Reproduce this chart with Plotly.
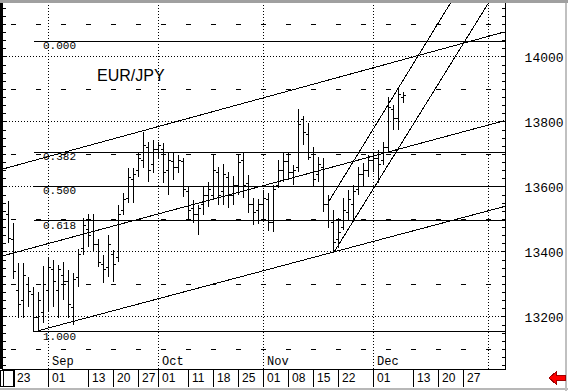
import pandas as pd
import plotly.graph_objects as go

# ---------------- data (EUR/JPY daily bars, price x100) ----------------
bar_dates = pd.bdate_range("2004-08-20", "2004-12-09")
opens = [13514, 13437, 13283, 13252, 13299, 13268, 13197, 13215, 13283, 13345,
         13283, 13329, 13308, 13228, 13320, 13412, 13468, 13462, 13422, 13360,
         13351, 13391, 13382, 13529, 13566, 13622, 13652, 13683, 13720, 13668,
         13714, 13714, 13652, 13677, 13659, 13677, 13585, 13535, 13514, 13545,
         13575, 13575, 13646, 13585, 13628, 13575, 13606, 13683, 13612, 13545,
         13529, 13545, 13560, 13492, 13606, 13652, 13677, 13646, 13659, 13809,
         13760, 13699, 13637, 13659, 13545, 13492, 13437, 13474, 13523, 13545,
         13591, 13637, 13652, 13683, 13689, 13683, 13720, 13837, 13812, 13874]
highs = [13557, 13489, 13366, 13366, 13323, 13292, 13277, 13357, 13382, 13375,
         13360, 13369, 13345, 13335, 13409, 13505, 13517, 13517, 13440, 13391,
         13452, 13406, 13545, 13582, 13659, 13659, 13708, 13769, 13739, 13745,
         13739, 13735, 13705, 13705, 13699, 13689, 13600, 13560, 13545, 13600,
         13615, 13699, 13662, 13671, 13646, 13634, 13699, 13705, 13637, 13566,
         13563, 13591, 13582, 13606, 13683, 13705, 13708, 13668, 13840, 13818,
         13797, 13723, 13692, 13689, 13575, 13529, 13505, 13566, 13591, 13606,
         13662, 13674, 13699, 13708, 13714, 13739, 13877, 13852, 13908, 13892]
lows = [13428, 13317, 13197, 13197, 13231, 13155, 13160, 13182, 13215, 13231,
        13197, 13252, 13197, 13175, 13292, 13391, 13415, 13400, 13354, 13305,
        13323, 13308, 13369, 13514, 13551, 13551, 13631, 13659, 13615, 13643,
        13689, 13612, 13575, 13622, 13643, 13569, 13498, 13489, 13452, 13514,
        13539, 13560, 13545, 13545, 13535, 13545, 13575, 13566, 13520, 13483,
        13486, 13492, 13465, 13462, 13597, 13615, 13622, 13606, 13646, 13729,
        13683, 13600, 13615, 13523, 13474, 13397, 13412, 13468, 13498, 13498,
        13575, 13600, 13631, 13646, 13612, 13668, 13705, 13775, 13775, 13858]
closes = [13443, 13339, 13237, 13329, 13277, 13197, 13252, 13299, 13351, 13308,
          13345, 13308, 13237, 13314, 13391, 13483, 13452, 13422, 13369, 13345,
          13422, 13360, 13514, 13560, 13628, 13637, 13689, 13729, 13652, 13714,
          13729, 13646, 13683, 13659, 13683, 13591, 13529, 13514, 13535, 13575,
          13591, 13652, 13575, 13637, 13575, 13606, 13674, 13606, 13545, 13523,
          13545, 13566, 13492, 13591, 13652, 13677, 13646, 13652, 13791, 13769,
          13692, 13622, 13668, 13545, 13498, 13428, 13459, 13529, 13560, 13585,
          13637, 13652, 13683, 13689, 13668, 13720, 13843, 13812, 13883, 13880]

# Fibonacci retracement (swing high / swing low)
fib_high = 14048
fib_low = 13155
fib_ratios = [0.0, 0.382, 0.5, 0.618, 1.0]
fib_labels = ["0.000", "0.382", "0.500", "0.618", "1.000"]
fib_start = "2004-08-27"

# trend lines: (start bar no., start value, end bar no., end value)
trend_lines = [
    (-0.2, 13655, 100.2, 14077),   # upper channel line
    (-0.2, 13388, 100.2, 13804),   # middle channel line
    (7.0, 13158, 100.2, 13540),    # lower channel line
    (65.0, 13554, 90.0, 14181),    # steep channel upper
    (66.0, 13397, 98.0, 14191),    # steep channel lower
]

day_label_dates = ["2004-08-23", "2004-09-01", "2004-09-13", "2004-09-20", "2004-09-27",
                   "2004-10-01", "2004-10-11", "2004-10-18", "2004-10-25", "2004-11-01",
                   "2004-11-08", "2004-11-15", "2004-11-22", "2004-12-01", "2004-12-13",
                   "2004-12-20", "2004-12-27"]
month_starts = ["2004-09-01", "2004-10-01", "2004-11-01", "2004-12-01", "2005-01-03"]
month_labels = ["Sep", "Oct", "Nov", "Dec", ""]
price_ticks = [13200, 13400, 13600, 13800, 14000]
odd_levels = [13100, 13300, 13500, 13700, 13900, 14100]
y_range = [13040, 14166]
x_range = [-0.1, 100.3]

# ---------------- trading-day calendar ----------------
cal = pd.bdate_range("2004-08-19", "2005-01-14")
pos = {d: i for i, d in enumerate(cal)}
def xi(d):
    return pos[pd.Timestamp(d)]

bx = [pos[d] for d in bar_dates]

# pixel helpers for decoration in paper coords (plot: x 3..505, y 3..369)
def px(p):
    return (p - 3) / 502.0
def py(p):
    return (369 - p) / 366.0

fig = go.Figure()

# weekly dash marks on odd hundreds
mondays = pd.date_range("2004-08-23", "2005-01-03", freq="W-MON")
mx, my = [], []
for lv in odd_levels:
    for m in mondays:
        mx.append(xi(m))
        my.append(lv)
fig.add_trace(go.Scatter(x=mx, y=my, mode="markers",
                         marker=dict(symbol="line-ew", size=3, color="black",
                                     line=dict(color="black", width=1)),
                         hoverinfo="skip"))

# fib lines
fx0 = xi(fib_start)
for r, lab in zip(fib_ratios, fib_labels):
    lv = fib_high - r * (fib_high - fib_low)
    fig.add_trace(go.Scatter(x=[fx0, x_range[1]], y=[lv, lv], mode="lines",
                             line=dict(color="black", width=1), hoverinfo="skip"))
    fig.add_annotation(x=fx0, y=lv, xref="x", yref="y", text=lab, showarrow=False,
                       xanchor="left", yanchor="middle", xshift=7, yshift=-5,
                       font=dict(family="Liberation Mono", size=11, color="black"))

# trend lines
for (x0, v0, x1, v1) in trend_lines:
    fig.add_trace(go.Scatter(x=[x0, x1], y=[v0, v1], mode="lines",
                             line=dict(color="black", width=1), hoverinfo="skip"))

# bars
fig.add_trace(go.Ohlc(x=bx, open=opens, high=highs, low=lows, close=closes,
                      increasing=dict(line=dict(color="black", width=1)),
                      decreasing=dict(line=dict(color="black", width=1)),
                      tickwidth=0.5, hoverinfo="skip"))

shapes = []
# monthly dotted verticals + labels
for d, lab in zip(month_starts, month_labels):
    shapes.append(dict(type="line", xref="x", yref="paper", x0=xi(d), x1=xi(d), y0=0, y1=1,
                       line=dict(color="black", width=1, dash="1px,2px"), layer="below"))
    if lab:
        fig.add_annotation(x=xi(d), y=py(362), xref="x", yref="paper", text=lab,
                           showarrow=False, xanchor="left", yanchor="middle", xshift=1,
                           font=dict(family="Liberation Mono", size=12, color="black"))

# day labels under the axis
for d in day_label_dates:
    fig.add_annotation(x=xi(d), y=py(377.5), xref="x", yref="paper",
                       text=pd.Timestamp(d).strftime("%d"), showarrow=False,
                       xanchor="left", yanchor="middle", xshift=1,
                       font=dict(family="Liberation Sans", size=12, color="black"))

fig.add_annotation(x=px(131), y=py(75), xref="paper", yref="paper", text="EUR/JPY",
                   showarrow=False, xanchor="center", yanchor="middle",
                   font=dict(family="Liberation Sans", size=16, color="black"))

# frame decorations
shapes += [
    dict(type="rect", xref="paper", yref="paper", x0=px(0), x1=px(568), y0=py(3), y1=py(0),
         fillcolor="#a0a0a0", line=dict(width=0), layer="above"),
    dict(type="line", xref="paper", yref="paper", x0=px(1.5), x1=px(1.5), y0=py(369), y1=py(3),
         line=dict(color="black", width=3)),
    dict(type="line", xref="paper", yref="paper", x0=px(0), x1=px(568), y0=py(388.5), y1=py(388.5),
         line=dict(color="#b8b8b8", width=2)),
    dict(type="line", xref="paper", yref="paper", x0=px(565.5), x1=px(565.5), y0=py(391), y1=py(3),
         line=dict(color="#c0c0c0", width=2)),
    dict(type="rect", xref="paper", yref="paper", x0=px(0.5), x1=px(14), y0=py(386), y1=py(370),
         line=dict(color="black", width=1)),
    dict(type="path", xref="paper", yref="paper",
         path="M %f,%f L %f,%f L %f,%f L %f,%f L %f,%f L %f,%f L %f,%f Z" % (
             px(549), py(378), px(556), py(372), px(556), py(375.5), px(565), py(375.5),
             px(565), py(380.5), px(556), py(380.5), px(556), py(384)),
         fillcolor="#ff0000", line=dict(color="#a00000", width=1)),
]

fig.update_layout(
    width=568, height=391,
    margin=dict(l=3, r=63, t=3, b=22),
    paper_bgcolor="white", plot_bgcolor="white",
    showlegend=False,
    shapes=shapes,
    xaxis=dict(range=x_range, rangeslider=dict(visible=False),
               tickvals=[0] + [xi(d) for d in day_label_dates], showticklabels=False,
               ticks="outside", ticklen=17, tickcolor="black", tickwidth=1,
               showline=True, linecolor="black", linewidth=1,
               showgrid=False, zeroline=False, fixedrange=True),
    yaxis=dict(range=y_range, side="right",
               tickvals=price_ticks, ticktext=[str(v) for v in price_ticks],
               tickfont=dict(family="Liberation Mono", size=13, color="black"),
               ticks="inside", ticklen=4, tickcolor="black",
               ticklabelstandoff=16,
               showline=True, linecolor="black", linewidth=1, mirror="ticks",
               showgrid=True, gridcolor="black", gridwidth=1, griddash="1px,2px",
               minor=dict(dtick=25, tick0=13000, ticks="inside", ticklen=3,
                          tickcolor="black", showgrid=False),
               zeroline=False, fixedrange=True),
)

post = (
    "document.body.style.margin='0';"
    "document.body.style.overflow='hidden';"
    "var st=document.createElement('style');"
    "st.textContent='.main-svg path{shape-rendering:crispEdges;}';"
    "document.head.appendChild(st);"
)
fig.write_html("out.html", config={"displayModeBar": False}, post_script=post)
